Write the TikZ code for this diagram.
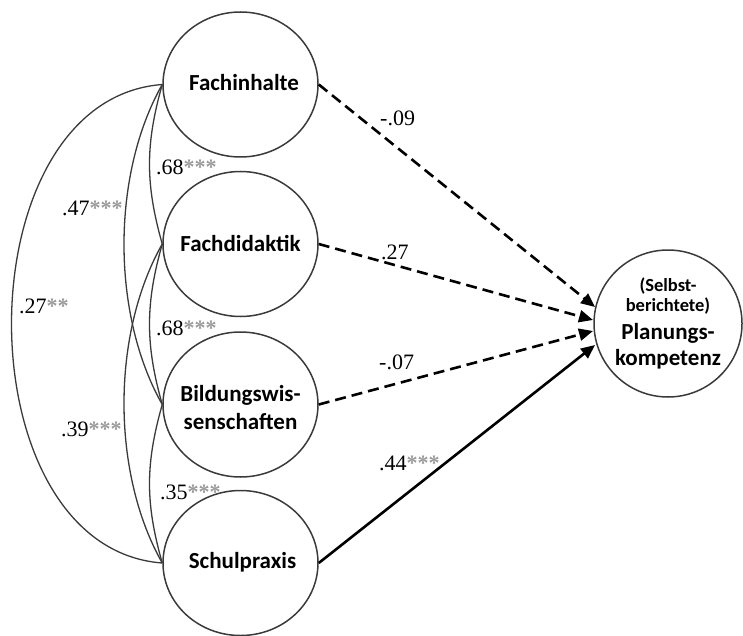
\documentclass[tikz,border=0pt]{standalone}
\usepackage{fontspec}
\setmainfont{Liberation Serif}
\newfontfamily\carlfont{Carlito}
\usetikzlibrary{arrows.meta,shapes.geometric}
\definecolor{starg}{HTML}{9A9A9A}
\definecolor{linec}{HTML}{3A3A3A}
\newcommand\stz[1]{\textcolor{starg}{\bfseries #1}}
\begin{document}
\begin{tikzpicture}[x=1pt,y=-1pt,
  circ/.style={ellipse,draw=linec,line width=1.5pt,inner sep=0pt,minimum width=155pt,minimum height=145pt},
  txt/.style={font=\carlfont\bfseries\fontsize{23}{28}\selectfont,align=center,inner sep=0pt},
  smalltxt/.style={font=\carlfont\bfseries\fontsize{18.5}{20}\selectfont,align=center,inner sep=0pt},
  bigtxt/.style={font=\carlfont\bfseries\fontsize{23}{26}\selectfont,align=center,inner sep=0pt},
  num/.style={font=\fontsize{22}{24}\selectfont,inner sep=0pt,anchor=west},
  cov/.style={line width=1.3pt,draw=linec},
  pth/.style={line width=2.6pt,-{Triangle[length=14pt,width=12pt]}},
  dsh/.style={pth,dash pattern=on 11pt off 6pt}
]
\useasboundingbox (0,0) rectangle (743,636);

% latent variables
\node[circ] (fi) at (240.5,84.5) {};
\node[txt] (fit) at (244,83) {Fachinhalte};
\node[circ] (fd) at (240.5,244) {};
\node[txt] (fdt) at (240.5,243) {Fachdidaktik};
\node[circ] (bw) at (240.5,404.5) {};
\node[txt] (bwt) at (240.5,408) {Bildungswis-\\senschaften};
\node[circ] (sp) at (240.5,563) {};
\node[txt] (spt) at (242.5,562) {Schulpraxis};

\node[circ,minimum width=148pt,minimum height=147pt] (pk) at (668,323.5) {};
\node[smalltxt] (pka) at (668,296) {(Selbst-\\berichtete)};
\node[bigtxt] (pkb) at (668,346) {Planungs-\\kompetenz};

% arrow end points
\coordinate (t1) at (595,307);
\coordinate (t2) at (593,320);
\coordinate (t3) at (593,331);
\coordinate (t4) at (595,345);

\draw[dsh] (fi.east) -- (t1);
\draw[dsh] (fd.east) -- (t2);
\draw[dsh] (bw.east) -- (t3);
\draw[pth] (sp.east) -- (t4);

% correlations
\draw[cov] (fi.west) .. controls +(-17,60) and +(-17,-60) .. (fd.west);
\draw[cov] (fd.west) .. controls +(-17,60) and +(-17,-60) .. (bw.west);
\draw[cov] (bw.west) .. controls +(-17,60) and +(-17,-60) .. (sp.west);
\draw[cov] (fi.west) .. controls +(-51,90) and +(-51,-90) .. (bw.west);
\draw[cov] (fd.west) .. controls +(-51,90) and +(-51,-90) .. (sp.west);
\draw[cov] (fi.west) .. controls +(-201,15) and +(-201,-15) .. (sp.west);

% labels
\node[num] (l1) at (156,167) {.68\stz{***}};
\node[num] (l2) at (62,208) {.47\stz{***}};
\node[num] (l3) at (19,306) {.27\stz{**}};
\node[num] (l4) at (156,328) {.68\stz{***}};
\node[num] (l5) at (61,429) {.39\stz{***}};
\node[num] (l6) at (160,492) {.35\stz{***}};
\node[num] (l7) at (380,118) {-.09};
\node[num] (l8) at (381,252) {.27};
\node[num] (l9) at (379,362) {-.07};
\node[num] (l10) at (379,463) {.44\stz{***}};
\end{tikzpicture}
\end{document}
